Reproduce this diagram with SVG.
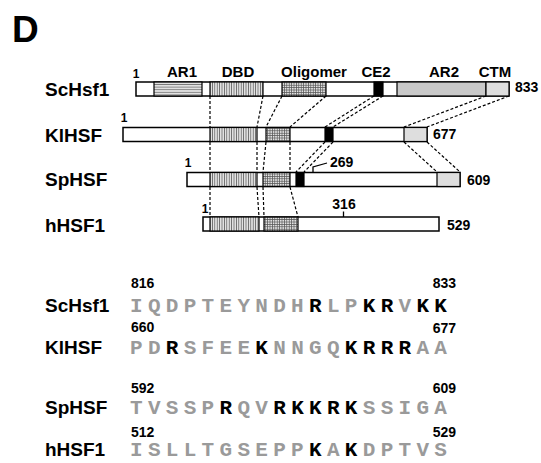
<svg xmlns="http://www.w3.org/2000/svg" width="541" height="463" viewBox="0 0 541 463">
<style>
.lbl{font-family:"Liberation Sans",Arial,sans-serif;font-weight:bold;fill:#000}
.name{font-size:19px}
.dom{font-size:15px}
.num{font-size:14px}
.one{font-size:12px}
.seq{font-family:"Liberation Mono","Courier New",monospace;font-weight:bold;font-size:21px;letter-spacing:5.3px;fill:#9a9a9a}
.k{fill:#000}
.bar{fill:#fff;stroke:#000;stroke-width:1.5}
.seg{stroke:#000;stroke-width:1.2}
.dash{stroke:#000;stroke-width:1.2;stroke-dasharray:3 2;fill:none}
</style>
<defs>
<pattern id="hh" patternUnits="userSpaceOnUse" width="4" height="2.6"><rect width="4" height="2.6" fill="#e2e2e2"/><line x1="0" y1="1.3" x2="4" y2="1.3" stroke="#666" stroke-width="0.8"/></pattern>
<pattern id="vv" patternUnits="userSpaceOnUse" width="2.4" height="4"><rect width="2.4" height="4" fill="#e2e2e2"/><line x1="1.2" y1="0" x2="1.2" y2="4" stroke="#555" stroke-width="0.8"/></pattern>
<pattern id="gg" patternUnits="userSpaceOnUse" width="2.4" height="2.4"><rect width="2.4" height="2.4" fill="#e2e2e2"/><path d="M1.2 0V2.4M0 1.2H2.4" stroke="#555" stroke-width="0.7"/></pattern>
</defs>
<rect width="541" height="463" fill="#fff"/>
<text class="lbl" x="12" y="41.5" font-size="37">D</text>

<g id="domain-labels">
<text class="lbl one" x="136" y="78" text-anchor="middle">1</text>
<text class="lbl dom" x="182" y="77" text-anchor="middle">AR1</text>
<text class="lbl dom" x="238" y="77" text-anchor="middle">DBD</text>
<text class="lbl dom" x="314" y="77" text-anchor="middle">Oligomer</text>
<text class="lbl dom" x="376" y="77" text-anchor="middle">CE2</text>
<text class="lbl dom" x="444" y="77" text-anchor="middle">AR2</text>
<text class="lbl dom" x="495" y="77" text-anchor="middle">CTM</text>
</g>

<g id="connectors">
<line class="dash" x1="210" y1="96" x2="210" y2="127"/>
<line class="dash" x1="263" y1="96" x2="257" y2="127"/>
<line class="dash" x1="282" y1="96" x2="266" y2="127"/>
<line class="dash" x1="326" y1="96" x2="290" y2="127"/>
<line class="dash" x1="374" y1="96" x2="325" y2="127"/>
<line class="dash" x1="383" y1="96" x2="333" y2="127"/>
<line class="dash" x1="486" y1="96" x2="404" y2="127"/>
<line class="dash" x1="509" y1="96" x2="427" y2="127"/>
<line class="dash" x1="210" y1="142" x2="210" y2="172"/>
<line class="dash" x1="257" y1="142" x2="257" y2="172"/>
<line class="dash" x1="266" y1="142" x2="263" y2="172"/>
<line class="dash" x1="290" y1="142" x2="290" y2="172"/>
<line class="dash" x1="325" y1="142" x2="296" y2="172"/>
<line class="dash" x1="333" y1="142" x2="304" y2="172"/>
<line class="dash" x1="404" y1="142" x2="437" y2="172"/>
<line class="dash" x1="427" y1="142" x2="460" y2="172"/>
<line class="dash" x1="210" y1="187" x2="210" y2="217"/>
<line class="dash" x1="257" y1="187" x2="259" y2="217"/>
<line class="dash" x1="263" y1="187" x2="264" y2="217"/>
<line class="dash" x1="290" y1="187" x2="298" y2="217"/>
</g>

<g id="ScHsf1">
<text class="lbl name" x="45" y="96">ScHsf1</text>
<rect class="bar" x="136" y="82" width="373" height="14"/>
<rect class="seg" x="154" y="82" width="48" height="14" fill="url(#hh)"/>
<rect class="seg" x="210" y="82" width="53" height="14" fill="url(#vv)"/>
<rect class="seg" x="282" y="82" width="44" height="14" fill="url(#gg)"/>
<rect class="seg" x="374" y="82" width="9" height="14" fill="#000"/>
<rect class="seg" x="397" y="82" width="89" height="14" fill="#c9c9c9"/>
<rect class="seg" x="486" y="82" width="23" height="14" fill="#dedede"/>
<text class="lbl num" x="515" y="92">833</text>
</g>

<g id="KlHSF">
<text class="lbl name" x="45" y="141.5">KlHSF</text>
<text class="lbl one" x="124" y="121.5" text-anchor="middle">1</text>
<rect class="bar" x="123" y="127.5" width="304" height="14"/>
<rect class="seg" x="210" y="127.5" width="47" height="14" fill="url(#vv)"/>
<rect class="seg" x="266" y="127.5" width="24" height="14" fill="url(#gg)"/>
<rect class="seg" x="325" y="127.5" width="8" height="14" fill="#000"/>
<rect class="seg" x="404" y="127.5" width="23" height="14" fill="#dedede"/>
<text class="lbl num" x="433" y="139">677</text>
</g>

<g id="SpHSF">
<text class="lbl name" x="45" y="185.5">SpHSF</text>
<text class="lbl one" x="188" y="166.5" text-anchor="middle">1</text>
<rect class="bar" x="187" y="172.5" width="273" height="14"/>
<rect class="seg" x="210" y="172.5" width="47" height="14" fill="url(#vv)"/>
<rect class="seg" x="263" y="172.5" width="27" height="14" fill="url(#gg)"/>
<rect class="seg" x="296" y="172.5" width="8" height="14" fill="#000"/>
<rect class="seg" x="437" y="172.5" width="23" height="14" fill="#dedede"/>
<polyline points="313,172.5 313,167 327,163" fill="none" stroke="#000" stroke-width="1.3"/>
<text class="lbl num" x="330" y="167">269</text>
<text class="lbl num" x="467" y="185">609</text>
</g>

<g id="hHSF1">
<text class="lbl name" x="45" y="231.5">hHSF1</text>
<text class="lbl one" x="205" y="213" text-anchor="middle">1</text>
<rect class="bar" x="203" y="217" width="236" height="14"/>
<rect class="seg" x="210" y="217" width="49" height="14" fill="url(#vv)"/>
<rect class="seg" x="264" y="217" width="34" height="14" fill="url(#gg)"/>
<line x1="343.5" y1="211.5" x2="343.5" y2="217" stroke="#000" stroke-width="1.3"/>
<text class="lbl num" x="344" y="208.5" text-anchor="middle">316</text>
<text class="lbl num" x="447" y="229.5">529</text>
</g>

<g id="seq-ScHsf1">
<text class="lbl name" x="45" y="312">ScHsf1</text>
<text class="lbl num" x="131" y="288">816</text>
<text class="lbl num" x="456" y="288" text-anchor="end">833</text>
<text class="seq" x="130" y="312">IQDPTEYNDH<tspan class="k">R</tspan>LP<tspan class="k">KR</tspan>V<tspan class="k">KK</tspan></text>
</g>

<g id="seq-KlHSF">
<text class="lbl name" x="45" y="354">KlHSF</text>
<text class="lbl num" x="131" y="332">660</text>
<text class="lbl num" x="456" y="333" text-anchor="end">677</text>
<text class="seq" x="130" y="354">PD<tspan class="k">R</tspan>SFEE<tspan class="k">K</tspan>NNGQ<tspan class="k">KRRR</tspan>AA</text>
</g>

<g id="seq-SpHSF">
<text class="lbl name" x="45" y="414">SpHSF</text>
<text class="lbl num" x="131" y="393">592</text>
<text class="lbl num" x="456" y="393" text-anchor="end">609</text>
<text class="seq" x="130" y="414">TVSSP<tspan class="k">R</tspan>QV<tspan class="k">RKKRK</tspan>SSIGA</text>
</g>

<g id="seq-hHSF1">
<text class="lbl name" x="45" y="456">hHSF1</text>
<text class="lbl num" x="131" y="437">512</text>
<text class="lbl num" x="456" y="437" text-anchor="end">529</text>
<text class="seq" x="130" y="456">ISLLTGSEPP<tspan class="k">K</tspan>A<tspan class="k">K</tspan>DPTVS</text>
</g>
</svg>
